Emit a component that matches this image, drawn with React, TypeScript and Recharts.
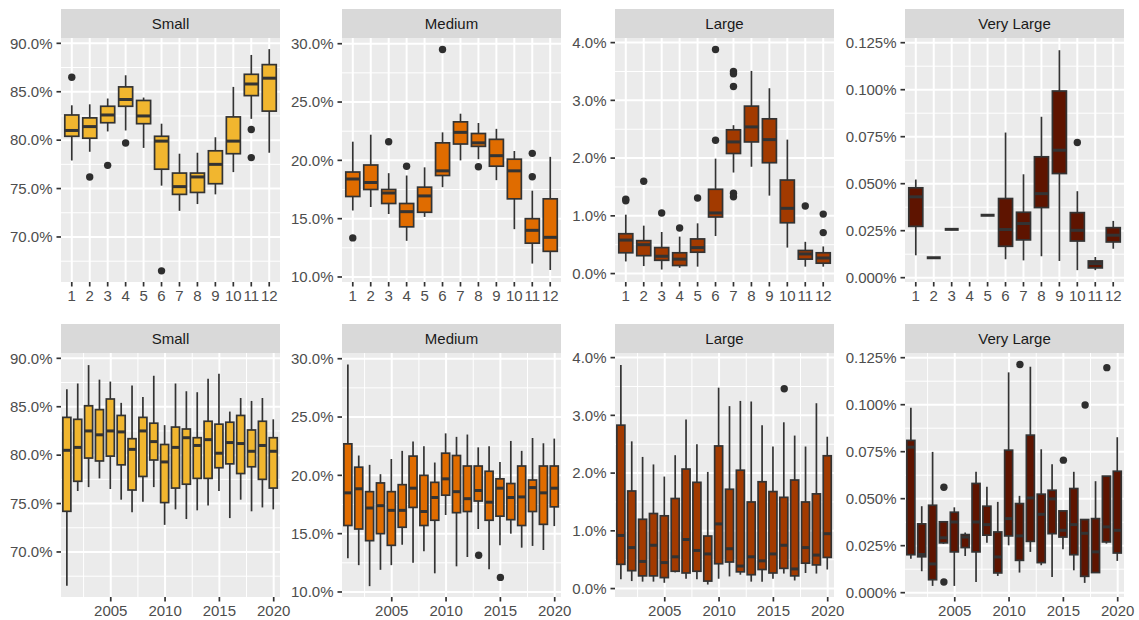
import { Bar, CartesianGrid, ComposedChart, Scatter, XAxis, YAxis } from "recharts";

// five-number summaries: [lower whisker, q1, median, q3, upper whisker]
type Stat = [number, number, number, number, number] | null;
type Out = [number, number];

const months = [1, 2, 3, 4, 5, 6, 7, 8, 9, 10, 11, 12];
const years = [
  2001, 2002, 2003, 2004, 2005, 2006, 2007, 2008, 2009, 2010,
  2011, 2012, 2013, 2014, 2015, 2016, 2017, 2018, 2019, 2020,
];

const smallByMonth: Stat[] = [
  [77.9, 80.4, 81.0, 82.6, 83.6],
  [78.8, 80.2, 81.4, 82.3, 83.7],
  [80.9, 81.8, 82.6, 83.5, 84.3],
  [81.0, 83.5, 84.2, 85.5, 86.7],
  [79.2, 81.7, 82.5, 84.1, 84.4],
  [75.3, 77.0, 79.9, 80.4, 81.7],
  [72.7, 74.4, 75.2, 76.6, 78.6],
  [73.4, 74.6, 76.2, 76.6, 78.7],
  [74.4, 75.5, 77.5, 78.9, 80.3],
  [76.7, 78.6, 79.9, 82.4, 85.5],
  [82.2, 84.6, 85.8, 86.8, 88.8],
  [78.7, 83.0, 86.4, 87.8, 89.4],
];
const smallByMonthOut: Out[] = [[1, 86.5], [2, 76.2], [3, 77.4], [4, 79.7], [6, 66.5], [11, 81.1], [11, 78.2]];

const mediumByMonth: Stat[] = [
  [15.7, 16.9, 18.4, 19.0, 21.6],
  [16.0, 17.5, 18.1, 19.6, 22.2],
  [15.4, 16.3, 17.2, 17.5, 18.9],
  [13.1, 14.3, 15.6, 16.3, 18.7],
  [15.15, 15.55, 16.95, 17.7, 19.4],
  [17.7, 18.7, 19.1, 21.5, 22.4],
  [20.0, 21.4, 22.4, 23.3, 24.0],
  [20.1, 21.2, 21.5, 22.3, 23.2],
  [18.3, 19.5, 20.4, 21.8, 22.7],
  [14.1, 16.7, 19.1, 20.1, 20.8],
  [11.15, 12.9, 14.0, 15.0, 17.4],
  [10.6, 12.2, 13.4, 16.7, 20.3],
];
const mediumByMonthOut: Out[] = [[1, 13.35], [3, 21.6], [4, 19.5], [6, 29.5], [8, 19.45], [11, 20.6], [11, 18.6]];

const largeByMonth: Stat[] = [
  [0.21, 0.36, 0.58, 0.69, 1.02],
  [0.13, 0.31, 0.5, 0.57, 0.83],
  [0.07, 0.23, 0.3, 0.45, 0.72],
  [0.1, 0.14, 0.25, 0.36, 0.64],
  [0.12, 0.37, 0.45, 0.6, 0.87],
  [0.65, 0.98, 1.05, 1.46, 1.99],
  [1.75, 2.08, 2.28, 2.49, 2.57],
  [1.85, 2.28, 2.54, 2.9, 3.51],
  [1.35, 1.92, 2.32, 2.68, 3.21],
  [0.45, 0.88, 1.13, 1.62, 2.32],
  [0.12, 0.25, 0.34, 0.4, 0.55],
  [0.12, 0.18, 0.27, 0.36, 0.47],
];
const largeByMonthOut: Out[] = [
  [1, 1.29], [1, 1.26], [2, 1.6], [3, 1.05], [4, 0.79], [5, 1.31], [6, 3.88], [6, 2.31],
  [7, 3.5], [7, 3.46], [7, 3.24], [7, 1.39], [7, 1.33], [11, 1.17], [12, 1.03], [12, 0.71],
];

const veryLargeByMonth: Stat[] = [
  [0.0119, 0.0273, 0.043, 0.0478, 0.0522],
  [0.0106, 0.0106, 0.0106, 0.0106, 0.0106],
  [0.0257, 0.0257, 0.0257, 0.0257, 0.0257],
  null,
  [0.0332, 0.0332, 0.0332, 0.0332, 0.0332],
  [0.0098, 0.0167, 0.0256, 0.0421, 0.0772],
  [0.0092, 0.0201, 0.0288, 0.0348, 0.055],
  [0.0114, 0.0373, 0.0447, 0.0643, 0.0856],
  [0.0089, 0.0554, 0.0678, 0.0993, 0.121],
  [0.004, 0.0195, 0.0252, 0.0346, 0.046],
  [0.004, 0.0052, 0.0075, 0.0089, 0.011],
  [0.0154, 0.019, 0.0226, 0.0266, 0.0302],
];
const veryLargeByMonthOut: Out[] = [[10, 0.0719]];

const smallByYear: Stat[] = [
  [66.5, 74.2, 80.5, 83.9, 86.8],
  [76.3, 77.3, 80.8, 83.7, 87.4],
  [76.7, 79.7, 82.5, 85.1, 89.3],
  [77.6, 79.4, 82.1, 84.7, 87.8],
  [76.5, 79.9, 82.5, 85.8, 87.6],
  [75.4, 79.0, 82.4, 84.1, 85.4],
  [74.1, 76.4, 80.6, 81.7, 87.2],
  [75.2, 77.8, 82.5, 83.9, 86.0],
  [76.7, 79.5, 81.4, 83.3, 88.2],
  [72.8, 75.1, 79.3, 81.1, 83.1],
  [74.4, 76.6, 80.8, 82.9, 87.4],
  [73.4, 77.0, 81.8, 82.7, 86.6],
  [74.3, 77.6, 81.0, 81.8, 86.5],
  [74.8, 77.6, 81.6, 83.5, 87.9],
  [76.3, 78.7, 80.2, 83.2, 88.4],
  [73.5, 79.1, 81.3, 83.4, 84.5],
  [75.4, 78.1, 81.2, 84.1, 85.9],
  [74.2, 78.8, 80.4, 82.6, 85.6],
  [74.6, 77.5, 81.0, 83.5, 85.9],
  [74.4, 76.6, 80.4, 81.8, 83.7],
];
const smallByYearOut: Out[] = [];

const mediumByYear: Stat[] = [
  [12.9, 15.7, 18.5, 22.7, 29.5],
  [12.3, 15.4, 18.85, 20.7, 21.7],
  [10.5, 14.4, 17.2, 18.6, 20.9],
  [11.9, 15.0, 17.4, 19.35, 20.1],
  [12.3, 14.0, 17.0, 18.6, 21.4],
  [14.05, 15.55, 17.0, 19.2, 22.1],
  [12.5, 17.25, 18.9, 21.65, 22.9],
  [13.5, 15.7, 16.9, 20.0, 22.5],
  [11.6, 16.15, 18.1, 19.4, 21.1],
  [16.6, 18.3, 19.7, 21.9, 23.6],
  [12.2, 16.8, 18.6, 21.7, 23.3],
  [13.0, 16.9, 18.0, 20.8, 23.5],
  [15.4, 17.8, 18.7, 20.8, 22.4],
  [11.95, 16.15, 17.7, 20.35, 22.5],
  [14.0, 16.5, 18.9, 19.7, 21.15],
  [15.0, 16.2, 18.1, 19.3, 22.95],
  [13.8, 15.7, 18.15, 20.8, 22.1],
  [13.95, 16.9, 18.95, 19.6, 23.2],
  [13.6, 15.8, 18.5, 20.8, 22.75],
  [15.65, 17.3, 18.9, 20.8, 23.15],
];
const mediumByYearOut: Out[] = [[2013, 13.15], [2015, 11.25]];

const largeByYear: Stat[] = [
  [0.16, 0.42, 0.92, 2.83, 3.87],
  [0.13, 0.31, 0.71, 1.69, 2.55],
  [0.12, 0.22, 0.47, 1.2, 2.28],
  [0.12, 0.22, 0.75, 1.3, 2.15],
  [0.1, 0.19, 0.45, 1.26, 1.94],
  [0.28, 0.3, 0.55, 1.56, 2.31],
  [0.17, 0.27, 0.85, 2.07, 2.93],
  [0.16, 0.3, 0.66, 1.84, 2.5],
  [0.07, 0.13, 0.6, 0.91, 2.02],
  [0.17, 0.43, 1.12, 2.47, 3.48],
  [0.21, 0.46, 0.69, 1.72, 3.16],
  [0.24, 0.29, 0.39, 2.05, 3.25],
  [0.12, 0.24, 0.55, 1.5, 3.24],
  [0.12, 0.33, 0.48, 1.85, 2.83],
  [0.17, 0.27, 0.6, 1.68, 2.46],
  [0.26, 0.35, 0.75, 1.58, 2.88],
  [0.14, 0.22, 0.34, 1.88, 2.65],
  [0.27, 0.44, 0.71, 1.5, 2.46],
  [0.26, 0.41, 0.58, 1.64, 3.21],
  [0.33, 0.54, 0.95, 2.3, 2.63],
];
const largeByYearOut: Out[] = [[2016, 3.46]];

const veryLargeByYear: Stat[] = [
  [0.0181, 0.0202, 0.0774, 0.081, 0.0984],
  [0.0114, 0.0191, 0.0203, 0.0366, 0.046],
  [0.0036, 0.0069, 0.0153, 0.0465, 0.0749],
  [0.026, 0.0265, 0.0292, 0.0377, 0.038],
  [0.0036, 0.0217, 0.0376, 0.0428, 0.0454],
  [0.0195, 0.024, 0.0296, 0.0309, 0.032],
  [0.0057, 0.0217, 0.0376, 0.0581, 0.0643],
  [0.0265, 0.0306, 0.0362, 0.046, 0.0563],
  [0.0089, 0.0105, 0.019, 0.0323, 0.0483],
  [0.0252, 0.0302, 0.0394, 0.0758, 0.1172],
  [0.0107, 0.0172, 0.0302, 0.0474, 0.0515],
  [0.0217, 0.0273, 0.0504, 0.0838, 0.1202],
  [0.0146, 0.016, 0.0417, 0.0524, 0.0763],
  [0.0083, 0.0314, 0.0499, 0.0545, 0.0683],
  [0.0231, 0.0296, 0.0332, 0.0435, 0.0435],
  [0.0119, 0.0202, 0.0362, 0.0554, 0.0643],
  [0.0052, 0.0087, 0.0316, 0.0389, 0.0389],
  [0.0107, 0.0107, 0.0217, 0.0394, 0.0593],
  [0.0261, 0.027, 0.035, 0.062, 0.062],
  [0.0169, 0.0211, 0.0332, 0.0646, 0.0827],
];
const veryLargeByYearOut: Out[] = [
  [2004, 0.0561], [2004, 0.0057], [2011, 0.1214], [2015, 0.0705], [2017, 0.0998], [2019, 0.1197],
];

const sizeNames = ["Small", "Medium", "Large", "Very Large"];
const sizeColors = ["#F1B62F", "#E06C00", "#A23A00", "#5E1400"];

const yDomains: [number, number][] = [
  [65.35, 90.55],
  [9.57, 30.49],
  [-0.146, 4.08],
  [-0.0023, 0.1275],
];
const yTicks = [
  [70, 75, 80, 85, 90],
  [10, 15, 20, 25, 30],
  [0, 1, 2, 3, 4],
  [0, 0.025, 0.05, 0.075, 0.1, 0.125],
];
const yMinor = [
  [67.5, 72.5, 77.5, 82.5, 87.5],
  [12.5, 17.5, 22.5, 27.5],
  [0.5, 1.5, 2.5, 3.5],
  [0.0125, 0.0375, 0.0625, 0.0875, 0.1125],
];
const yDigits = [1, 1, 1, 3];

const yearTicks = [2005, 2010, 2015, 2020];
const yearMinor = [2002.5, 2007.5, 2012.5, 2017.5];

const rows = [
  {
    cats: months,
    stats: [smallByMonth, mediumByMonth, largeByMonth, veryLargeByMonth],
    outs: [smallByMonthOut, mediumByMonthOut, largeByMonthOut, veryLargeByMonthOut],
    xDomain: [0.4, 12.6] as [number, number],
    xTicks: months,
    xMinor: [] as number[],
    barSize: 14,
    top: 38,
  },
  {
    cats: years,
    stats: [smallByYear, mediumByYear, largeByYear, veryLargeByYear],
    outs: [smallByYearOut, mediumByYearOut, largeByYearOut, veryLargeByYearOut],
    xDomain: [2000.42, 2020.58] as [number, number],
    xTicks: yearTicks,
    xMinor: yearMinor,
    barSize: 8,
    top: 353,
  },
];

const panelLeft = [61, 342, 615, 905];
const PLOT_W = 219;
const PLOT_H = 244;
const STRIP_H = 29.5;
const Y_W = 64;
const X_H = 30;
const PAD_TOP = 12;
const PAD_RIGHT = 24;
const INK = "#333333";
const FONT = "'Liberation Sans', Arial, Helvetica, sans-serif";

function BoxShape(props: any) {
  const { x, y, width, height, payload, fill } = props;
  const { lo, q1, med, q3, hi } = payload;
  const span = hi - lo;
  const py = (v: number) => (span === 0 ? y : y + ((hi - v) / span) * height);
  const cx = x + width / 2;
  return (
    <g>
      <line x1={cx} x2={cx} y1={py(hi)} y2={py(q3)} stroke={INK} strokeWidth={1.7} />
      <line x1={cx} x2={cx} y1={py(q1)} y2={py(lo)} stroke={INK} strokeWidth={1.7} />
      <rect
        x={x}
        y={py(q3)}
        width={width}
        height={Math.max(py(q1) - py(q3), 0)}
        fill={fill}
        stroke={INK}
        strokeWidth={1.7}
      />
      <line x1={x} x2={x + width} y1={py(med)} y2={py(med)} stroke={INK} strokeWidth={3} />
    </g>
  );
}

function Dot(props: any) {
  return <circle cx={props.cx} cy={props.cy} r={3.7} fill="#2E2E2E" />;
}

function Panel({ row, col }: { row: (typeof rows)[number]; col: number }) {
  const data = row.cats
    .map((c, i) => {
      const s = row.stats[col][i];
      return s ? { x: c, lo: s[0], q1: s[1], med: s[2], q3: s[3], hi: s[4] } : null;
    })
    .filter(Boolean);
  const outliers = row.outs[col].map(([x, y]) => ({ x, y }));
  const left = panelLeft[col];
  const tickStyle = { fill: "#4D4D4D", fontSize: 15, fontFamily: FONT };

  return (
    <>
      <div
        style={{
          position: "absolute",
          left,
          top: row.top - STRIP_H,
          width: PLOT_W,
          height: STRIP_H,
          background: "#D9D9D9",
          color: "#1A1A1A",
          fontSize: 15,
          lineHeight: `${STRIP_H}px`,
          textAlign: "center",
        }}
      >
        {sizeNames[col]}
      </div>
      <div style={{ position: "absolute", left: left - Y_W, top: row.top - PAD_TOP }}>
        <ComposedChart
          width={Y_W + PLOT_W + PAD_RIGHT}
          height={PAD_TOP + PLOT_H + X_H}
          data={data}
          margin={{ top: PAD_TOP, right: PAD_RIGHT, bottom: 0, left: 0 }}
        >
          <CartesianGrid
            fill="#EBEBEB"
            stroke="#FFFFFF"
            strokeWidth={1}
            horizontalValues={yMinor[col]}
            vertical={row.xMinor.length > 0}
            verticalValues={row.xMinor.length > 0 ? row.xMinor : undefined}
          />
          <CartesianGrid
            stroke="#FFFFFF"
            strokeWidth={2}
            horizontalValues={yTicks[col]}
            verticalValues={row.xTicks}
          />
          <XAxis
            type="number"
            dataKey="x"
            domain={row.xDomain}
            allowDataOverflow
            ticks={row.xTicks}
            interval={0}
            height={X_H}
            axisLine={false}
            tickLine={{ stroke: INK, strokeWidth: 1.7 }}
            tickSize={4.5}
            tickMargin={4}
            tick={tickStyle}
          />
          <YAxis
            type="number"
            domain={yDomains[col]}
            allowDataOverflow
            ticks={yTicks[col]}
            interval={0}
            width={Y_W}
            axisLine={false}
            tickLine={{ stroke: INK, strokeWidth: 1.7 }}
            tickSize={4.5}
            tickMargin={4}
            tick={tickStyle}
            tickFormatter={(v: number) => `${v.toFixed(yDigits[col])}%`}
          />
          <Bar
            dataKey={(d: any) => [d.lo, d.hi]}
            fill={sizeColors[col]}
            barSize={row.barSize}
            shape={BoxShape}
            isAnimationActive={false}
          />
          {outliers.length > 0 ? (
            <Scatter data={outliers} dataKey="y" shape={Dot} isAnimationActive={false} />
          ) : null}
        </ComposedChart>
      </div>
    </>
  );
}

export default function App() {
  return (
    <div
      style={{
        position: "absolute",
        left: 0,
        top: 0,
        width: 1139,
        height: 620,
        overflow: "hidden",
        background: "#FFFFFF",
        fontFamily: FONT,
      }}
    >
      {rows.map((row, r) =>
        sizeNames.map((_, c) => <Panel key={`${r}-${c}`} row={row} col={c} />),
      )}
    </div>
  );
}
